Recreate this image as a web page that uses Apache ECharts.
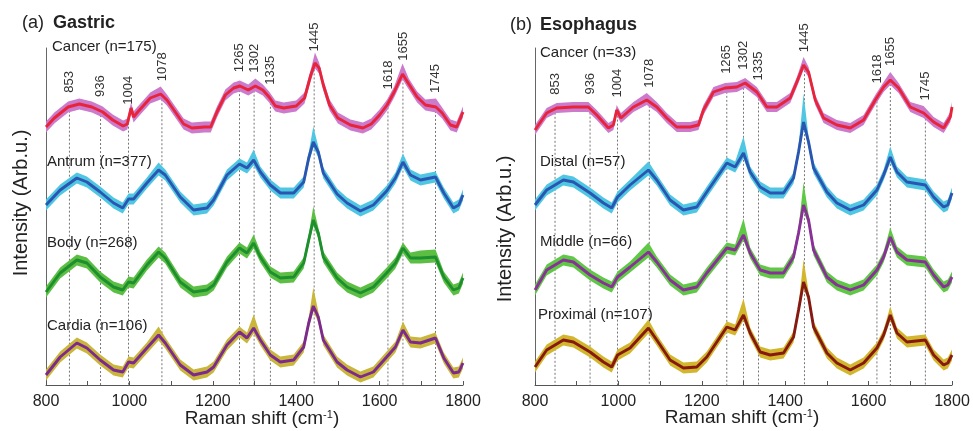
<!DOCTYPE html>
<html><head><meta charset="utf-8">
<script src="https://cdn.jsdelivr.net/npm/echarts@6/dist/echarts.min.js"></script>
<style>html,body{margin:0;padding:0;background:#fff}#c{width:973px;height:431px}</style>
</head><body><div id="c"></div>
<script>
const FONT = '"Liberation Sans", Arial, Helvetica, sans-serif';

// ---------- (a) Gastric ----------
const gastricCancerX = [800,820,853,880,910,936,960,985,995,1004,1010,1020,1050,1075,1090,1110,1130,1150,1180,1195,1210,1230,1250,1265,1285,1302,1320,1335,1350,1370,1400,1420,1435,1445,1455,1465,1480,1500,1530,1560,1580,1600,1618,1635,1655,1670,1690,1710,1735,1750,1770,1785,1800];
const gastricCancer  = [25.8,26.7,27.8,28.1,27.8,27.3,26.5,25.9,26.1,27.7,26.8,27.3,28.7,29.1,28.5,27.3,26.1,25.7,25.8,25.8,27.3,29.0,29.7,29.9,29.5,29.9,29.5,28.8,27.9,27.7,27.9,28.7,31.0,32.2,31.7,30.0,28.0,26.7,26.0,25.7,26.1,27.0,28.0,29.3,31.1,30.1,28.8,28.0,27.8,27.2,26.0,25.8,27.3];
const gastricX = [800,834,874,898,930,962,984,998,1010,1042,1070,1086,1122,1154,1186,1202,1234,1264,1282,1298,1314,1338,1362,1394,1418,1430,1441,1453,1465,1498,1522,1554,1585,1617,1638,1656,1674,1698,1734,1754,1777,1790,1800];
const gastricAntrum = [18.0,19.5,20.7,20.3,19.3,18.2,17.7,18.6,18.6,20.2,21.5,21.0,18.8,17.5,17.7,18.5,21.0,22.1,21.7,22.5,21.3,20.0,19.2,19.2,20.3,22.7,24.3,23.3,21.2,19.1,18.2,17.4,18.0,19.4,20.7,22.3,21.0,20.5,20.8,19.2,17.7,18.0,19.0];
const gastricBody   = [9.3,11.2,12.5,12.2,10.8,9.8,9.5,10.3,10.2,12.0,13.3,12.7,10.3,9.3,9.5,10.0,12.3,13.7,13.2,14.2,12.8,11.3,10.7,10.8,12.2,14.5,16.5,15.2,12.8,10.7,9.8,9.2,9.8,11.2,12.2,13.7,12.7,12.7,12.8,10.8,9.5,9.7,10.7];
const gastricCardia = [1.0,2.8,4.2,3.7,2.5,1.5,1.3,2.3,2.2,3.7,5.0,4.2,2.0,1.0,1.3,1.8,4.0,5.3,4.7,5.7,4.5,3.0,2.3,2.5,3.8,6.2,7.9,6.8,4.5,2.3,1.5,0.8,1.3,2.8,3.8,5.5,4.3,4.2,4.7,2.7,1.2,1.3,2.2];
const gastricCancerBandExtra = [[1075,0.2],[1302,0.2],[1445,0.5],[1655,0.5],[1735,0.3]];
const gastricAntrumBandExtra = [[1070,0.2],[1298,0.5],[1441,1.0],[1656,0.3]];
const gastricBodyBandExtra   = [[1298,0.3],[1441,0.8],[1698,0.2],[1734,0.2]];
const gastricCardiaBandExtra = [[1070,0.3],[1298,0.8],[1441,1.3],[1656,0.3]];

// ---------- (b) Esophagus ----------
const esoCancerX = [800,828,852,892,928,948,976,988,996,1006,1036,1068,1092,1116,1140,1172,1192,1204,1228,1256,1284,1304,1332,1356,1380,1412,1428,1444,1456,1472,1492,1524,1556,1588,1616,1636,1652,1672,1700,1732,1756,1780,1796,1800];
const esoCancer  = [25.5,27.2,27.7,27.8,27.8,27.0,25.7,26.0,27.5,26.7,27.8,28.5,27.8,26.7,25.8,25.8,26.0,27.5,29.3,29.7,29.8,30.2,29.3,27.8,27.8,28.7,30.3,32.0,31.3,28.5,26.7,26.0,25.7,26.5,28.5,29.8,30.5,29.7,27.8,27.2,26.3,25.7,26.8,27.8];
const esoX = [800,828,868,892,932,964,984,998,1028,1072,1092,1124,1156,1188,1212,1260,1280,1300,1316,1340,1364,1396,1420,1432,1444,1456,1468,1500,1524,1556,1588,1620,1636,1652,1668,1692,1736,1756,1780,1790,1800];
const esoDistal   = [18.0,19.5,20.5,20.3,19.2,18.2,17.7,18.8,20.0,21.5,20.5,18.5,17.5,17.8,19.3,22.2,21.8,23.2,21.3,19.8,19.2,19.2,20.7,23.3,26.3,24.3,21.7,19.3,18.2,17.5,18.0,19.5,21.0,22.8,21.3,20.3,20.0,18.8,17.8,18.0,19.2];
const esoMiddle   = [9.5,11.5,12.5,12.3,11.0,10.2,9.8,10.8,11.8,13.3,12.3,10.5,9.5,9.8,11.2,13.7,13.5,15.0,13.2,11.5,11.2,11.2,12.8,15.2,18.0,16.5,13.5,10.8,10.0,9.5,10.0,11.5,12.8,14.8,13.3,12.5,12.3,11.0,9.8,10.0,10.8];
const esoProximal = [1.8,3.5,4.5,4.3,3.3,2.3,1.8,3.0,3.7,5.7,4.5,2.5,1.7,1.8,2.8,5.8,5.5,7.0,5.2,3.3,3.0,3.2,4.8,7.5,10.3,8.8,5.8,3.2,2.2,1.5,2.2,3.7,5.0,7.0,5.2,4.3,4.5,3.0,2.0,2.2,3.0];
const esoCancerBandExtra   = [[1068,0.2],[1444,0.3],[1652,0.3],[1732,0.2]];
const esoDistalBandExtra   = [[1072,0.3],[1300,1.1],[1444,2.3],[1652,0.5]];
const esoMiddleBandExtra   = [[1072,0.4],[1300,1.1],[1444,1.7],[1652,0.4]];
const esoProximalBandExtra = [[1072,0.3],[1300,1.1],[1444,1.7],[1652,0.3]];

// ---------- peaks ----------
const peakLabels = ['853','936','1004','1078','1265','1302','1335','1445','1618','1655','1745'];
const gastricPeakPos = [856,931,998,1078,1264,1299,1338,1443,1620,1656,1734];
const esoPeakPos     = [848,932,998,1074,1260,1300,1336,1446,1620,1652,1736];

const xTicksMin = 800, xTicksMax = 1800, xTickStep = 100;

// ---------- helpers ----------
function pairs(xs, ys){ return xs.map((x,i)=>[x, ys[i]]); }
function interp(xs, ys, x){
  for (let i=0;i<xs.length-1;i++){
    if (x>=xs[i] && x<=xs[i+1]){ const t=(x-xs[i])/(xs[i+1]-xs[i]); return ys[i]+t*(ys[i+1]-ys[i]); }
  }
  return ys[ys.length-1];
}
function band(g, xs, ys, base, extras, color){
  const ex = new Map(extras);
  const upper = xs.map((x,i)=>[x, ys[i]+base+(ex.get(x)||0)]);
  const lower = xs.map((x,i)=>[x, ys[i]-base]);
  return {type:'custom', xAxisIndex:g, yAxisIndex:g, silent:true, animation:false,
    data:[[xs[0], ys[0]]],
    renderItem(params, api){
      const pts = upper.map(p=>api.coord(p)).concat(lower.slice().reverse().map(p=>api.coord(p)));
      return {type:'polygon', shape:{points:pts}, style:{fill:color}};
    }};
}
function line(g, xs, ys, color){
  return {type:'line', xAxisIndex:g, yAxisIndex:g, data:pairs(xs,ys), symbol:'none', silent:true,
    animation:false, lineStyle:{color:color, width:2.9}};
}
function peaks(g, pos, cx, cy){
  const data = pos.map((p,i)=>[p, interp(cx,cy,p), i]);
  return {type:'custom', xAxisIndex:g, yAxisIndex:g, silent:true, clip:false, animation:false, data,
    renderItem(params, api){
      const x=api.value(0), top=api.value(1), i=api.value(2);
      const p1=api.coord([x, top]), p2=api.coord([x, 0]);
      return {type:'group', children:[
        {type:'line', shape:{x1:p1[0], y1:p1[1], x2:p2[0], y2:p2[1]},
          style:{stroke:'#555', lineWidth:0.8, lineDash:[2,2]}},
        {type:'text', x:p1[0], y:p1[1]-14, rotation:Math.PI/2,
          style:{text:peakLabels[i], fill:'#333', font:'13px '+FONT, align:'left', verticalAlign:'middle'}}
      ]};
    }};
}
function xAxis(g){
  return {type:'value', gridIndex:g, min:xTicksMin, max:xTicksMax, interval:xTickStep,
    axisLine:{lineStyle:{color:'#555', width:1}},
    axisTick:{inside:true, length:4, lineStyle:{color:'#555'}},
    axisLabel:{formatter:v=> (v%200===0? String(v):''), fontSize:16, color:'#222', margin:9, fontFamily:FONT,
      showMinLabel:true, showMaxLabel:true},
    splitLine:{show:false}};
}
function yAxis(g){
  return {type:'value', gridIndex:g, min:0, max:33.7,
    axisLine:{show:true, lineStyle:{color:'#666', width:1}},
    axisTick:{show:false}, axisLabel:{show:false}, splitLine:{show:false}};
}
function txt(x, y, text, size, opts){
  return Object.assign({type:'text', x:x, y:y, silent:true,
    style:Object.assign({text:text, fill:'#222', font:size+'px '+FONT, align:'left', verticalAlign:'middle'}, opts||{})});
}

const chart = echarts.init(document.getElementById('c'), null, {renderer:'canvas'});
chart.setOption({
  backgroundColor:'#fff',
  animation:false,
  grid:[
    {left:46, top:48, width:417, height:337, outerBoundsMode:'none'},
    {left:535, top:48, width:417, height:337, outerBoundsMode:'none'}
  ],
  xAxis:[xAxis(0), xAxis(1)],
  yAxis:[yAxis(0), yAxis(1)],
  series:[
    peaks(0, gastricPeakPos, gastricCancerX, gastricCancer),
    band(0, gastricCancerX, gastricCancer, 0.55, gastricCancerBandExtra, '#cc7acb'),
    line(0, gastricCancerX, gastricCancer, '#e8243a'),
    band(0, gastricX, gastricAntrum, 0.55, gastricAntrumBandExtra, '#4fc6e2'),
    line(0, gastricX, gastricAntrum, '#2a56b2'),
    band(0, gastricX, gastricBody, 0.55, gastricBodyBandExtra, '#5cbf44'),
    line(0, gastricX, gastricBody, '#1d8f2e'),
    band(0, gastricX, gastricCardia, 0.55, gastricCardiaBandExtra, '#c9b63a'),
    line(0, gastricX, gastricCardia, '#7c2a8e'),

    peaks(1, esoPeakPos, esoCancerX, esoCancer),
    band(1, esoCancerX, esoCancer, 0.5, esoCancerBandExtra, '#cc7acb'),
    line(1, esoCancerX, esoCancer, '#e8243a'),
    band(1, esoX, esoDistal, 0.55, esoDistalBandExtra, '#4fc6e2'),
    line(1, esoX, esoDistal, '#2a56b2'),
    band(1, esoX, esoMiddle, 0.55, esoMiddleBandExtra, '#5fc844'),
    line(1, esoX, esoMiddle, '#8a3099'),
    band(1, esoX, esoProximal, 0.55, esoProximalBandExtra, '#d2b62c'),
    line(1, esoX, esoProximal, '#861a12')
  ],
  graphic:[
    txt(22, 23, '(a)', 18),
    txt(53, 23, 'Gastric', 18, {font:'bold 18px '+FONT}),
    txt(510, 25, '(b)', 18),
    txt(540, 25, 'Esophagus', 18, {font:'bold 18px '+FONT}),
    {type:'text', x:21, y:203, rotation:Math.PI/2, silent:true,
      style:{text:'Intensity (Arb.u.)', fill:'#222', font:'20px '+FONT, align:'center', verticalAlign:'middle'}},
    {type:'text', x:505, y:229, rotation:Math.PI/2, silent:true,
      style:{text:'Intensity (Arb.u.)', fill:'#222', font:'20px '+FONT, align:'center', verticalAlign:'middle'}},
    {type:'text', x:262, y:419, silent:true,
      style:{text:'Raman shift (cm{s|-1})', fill:'#222', font:'19px '+FONT, align:'center', verticalAlign:'middle',
        rich:{s:{fontSize:11, fontFamily:FONT, fill:'#222', verticalAlign:'top', padding:[0,0,9,0]}}}},
    {type:'text', x:742, y:418, silent:true,
      style:{text:'Raman shift (cm{s|-1})', fill:'#222', font:'19px '+FONT, align:'center', verticalAlign:'middle',
        rich:{s:{fontSize:11, fontFamily:FONT, fill:'#222', verticalAlign:'top', padding:[0,0,9,0]}}}},
    txt(52, 47, 'Cancer (n=175)', 15),
    txt(47, 162, 'Antrum (n=377)', 15),
    txt(47, 243, 'Body (n=268)', 15),
    txt(47, 326, 'Cardia (n=106)', 15),
    txt(540, 53, 'Cancer (n=33)', 15),
    txt(540, 162, 'Distal (n=57)', 15),
    txt(540, 242, 'Middle (n=66)', 15),
    txt(538, 315, 'Proximal (n=107)', 15)
  ]
});
</script>
</body></html>
